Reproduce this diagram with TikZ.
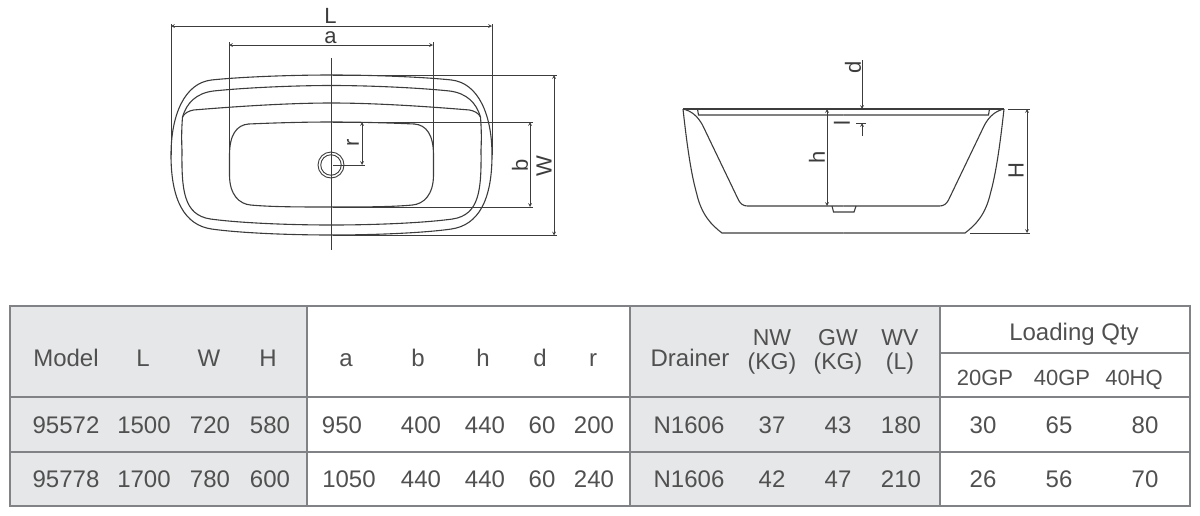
\documentclass[tikz,border=0pt]{standalone}
\usepackage{fontspec}
\setmainfont{Liberation Sans}
\definecolor{ink}{HTML}{3C3C3C}
\definecolor{txt}{HTML}{505050}
\definecolor{rulegray}{HTML}{808285}
\definecolor{panelgray}{HTML}{E6E7E8}
\begin{document}
\begin{tikzpicture}[x=1pt,y=-1pt,>=stealth,
    outline/.style={draw=ink,line width=1.1pt},
    dimline/.style={draw=ink,line width=.7pt},
    dimtext/.style={text=ink,font=\fontsize{22}{22}\selectfont,inner sep=0pt},
    cell/.style={text=txt,font=\fontsize{24}{24}\selectfont,inner sep=0pt,anchor=base},
    gptext/.style={cell,font=\fontsize{22}{24}\selectfont},
    twoline/.style={text=txt,font=\fontsize{23}{24}\selectfont,inner sep=0pt,align=center},
    tabline/.style={draw=rulegray,line width=1.5pt}]

  \useasboundingbox (0,0) rectangle (1200,515);

  % the plan view
  \foreach \s in {1,-1} {
    \begin{scope}[shift={(331.5,0)},xscale=\s]
      \draw[outline] (0,75) .. controls (-42,75) and (-92,77) .. (-120,80)
        .. controls (-147,83) and (-160.5,115) .. (-160.5,155)
        .. controls (-160.5,200) and (-147,225) .. (-120,229)
        .. controls (-92,233) and (-42,235) .. (0,235);
      \draw[outline] (0,85.5) .. controls (-40,85.5) and (-90,88) .. (-118,91)
        .. controls (-135,93) and (-145,103) .. (-149,117)
        .. controls (-150,130) and (-150,140) .. (-149.5,150)
        .. controls (-150,190) and (-148,215) .. (-121,219)
        .. controls (-92,223) and (-42,225) .. (0,225);
      \draw[outline] (-149,117) .. controls (-147,113) and (-143,111) .. (-138,110)
        .. controls (-90,106) and (-40,103) .. (0,103);
      \draw[outline] (0,122) .. controls (-30,122) and (-60,123) .. (-83,124)
        .. controls (-95,125) and (-102,135) .. (-102,155) -- (-102,175)
        .. controls (-102,195) and (-92,204) .. (-81,205)
        .. controls (-60,207) and (-30,207) .. (0,207);
    \end{scope}
  }
  \node[circle,draw=ink,line width=.9pt,minimum size=26pt,inner sep=0pt] (drainout) at (331,165) {};
  \node[circle,draw=ink,line width=.9pt,minimum size=20.5pt,inner sep=0pt] (drainin) at (331,165) {};

  \coordinate (Ltop1) at (171,24);   \coordinate (Lend1) at (171,155);
  \coordinate (Ltop2) at (492,24);   \coordinate (Lend2) at (492,155);
  \coordinate (atop1) at (229,42);   \coordinate (aend1) at (229,165);
  \coordinate (atop2) at (433,42);   \coordinate (aend2) at (433,165);
  \coordinate (axis1) at (331,58);   \coordinate (axis2) at (331,250);
  \coordinate (Wext1) at (333,75);   \coordinate (Wext1b) at (557,75);
  \coordinate (Wext2) at (333,235.5);\coordinate (Wext2b) at (557,235.5);
  \coordinate (bext1) at (333,122);  \coordinate (bext1b) at (533,122);
  \coordinate (bext2) at (333,207);  \coordinate (bext2b) at (533,207);
  \coordinate (rext) at (333,165);   \coordinate (rextb) at (365,165);

  \draw[dimline] (Ltop1) -- (Lend1);
  \draw[dimline] (Ltop2) -- (Lend2);
  \draw[dimline] (atop1) -- (aend1);
  \draw[dimline] (atop2) -- (aend2);
  \draw[dimline] (axis1) -- (axis2);
  \draw[dimline] (Wext1) -- (Wext1b);
  \draw[dimline] (Wext2) -- (Wext2b);
  \draw[dimline] (bext1) -- (bext1b);
  \draw[dimline] (bext2) -- (bext2b);
  \draw[dimline] (rext) -- (rextb);
  \draw[dimline,<->] (171,26) -- (492,26);
  \draw[dimline,<->] (229,45) -- (433,45);
  \draw[dimline,<->] (554,75) -- (554,235.5);
  \draw[dimline,<->] (530,122) -- (530,207);
  \draw[dimline,<->] (362,122) -- (362,165);

  \node[dimtext] (labL) at (330.5,16) {L};
  \node[dimtext] (laba) at (330.5,38) {a};
  \node[dimtext,rotate=90] (labW) at (544,166) {W};
  \node[dimtext,rotate=90] (labb) at (520,165) {b};
  \node[dimtext,rotate=90] (labr) at (353,143) {r};

  % the side view
  \foreach \s in {1,-1} {
    \begin{scope}[shift={(843.5,0)},xscale=\s]
      \draw[outline] (-160.5,109) .. controls (-156,150) and (-152,175) .. (-147,193)
        .. controls (-142,215) and (-132,225) .. (-121.5,233) -- (0,233);
      \draw[outline] (-160.5,109) .. controls (-152,111) and (-146,116) .. (-141,125)
        -- (-105,200) .. controls (-103,204) and (-100,206) .. (-96,206) -- (0,206);
      \draw[outline] (-160.5,109) -- (0,109);
      \draw[outline] (-146,109) -- (-145,115) -- (0,115);
    \end{scope}
  }
  \draw[outline] (832,206) -- (833.5,212) -- (854,212) -- (856,206);

  \coordinate (dtop) at (862,60);    \coordinate (darr1) at (862,109);
  \coordinate (dend) at (862,136);   \coordinate (darr2) at (862,123);
  \coordinate (dtick1) at (856,109); \coordinate (dtick1b) at (866,109);
  \coordinate (dtick2) at (856,123); \coordinate (dtick2b) at (866,123);
  \coordinate (htop) at (827,109);   \coordinate (hend) at (827,206);
  \coordinate (Hext1) at (1008,109); \coordinate (Hext1b) at (1030,109);
  \coordinate (Hext2) at (970,233);  \coordinate (Hext2b) at (1030,233);
  \coordinate (Htop) at (1027,109);  \coordinate (Hend) at (1027,233);

  \draw[dimline,->] (dtop) -- (darr1);
  \draw[dimline,->] (dend) -- (darr2);
  \draw[dimline] (dtick1) -- (dtick1b);
  \draw[dimline] (dtick2) -- (dtick2b);
  \draw[dimline,<->] (htop) -- (hend);
  \draw[dimline] (Hext1) -- (Hext1b);
  \draw[dimline] (Hext2) -- (Hext2b);
  \draw[dimline,<->] (Htop) -- (Hend);

  \node[dimtext,rotate=90] (labd) at (853,67) {d};
  \node[dimtext,rotate=90] (labl) at (842,123) {l};
  \node[dimtext,rotate=90] (labh) at (817,157) {h};
  \node[dimtext,rotate=90] (labH) at (1016,171) {H};

  % the table
  \fill[panelgray] (10,306) rectangle (307,506);
  \fill[panelgray] (630,306) rectangle (940,506);
  \draw[tabline] (10,306) rectangle (1190,506);
  \draw[tabline] (10,397) -- (1190,397);
  \draw[tabline] (10,452) -- (1190,452);
  \draw[tabline] (940,353) -- (1190,353);
  \foreach \x in {307,630,940} \draw[tabline] (\x,306) -- (\x,506);

  \foreach \x/\t/\n in {66/Model/model,143/L/colL,209/W/colW,268/H/colH,346/a/cola,418/b/colb,
      483/h/colh,540/d/cold,593/r/colr,690/Drainer/drainer}
    \node[cell] (\n) at (\x,366) {\t};
  \node[twoline] (nw) at (772,352) {NW\\(KG)};
  \node[twoline] (gw) at (838,352) {GW\\(KG)};
  \node[twoline] (wv) at (900,352) {WV\\(L)};
  \node[cell] (qty) at (1074,340) {Loading Qty};
  \node[gptext] (gp20) at (985,385) {20GP};
  \node[gptext] (gp40) at (1062,385) {40GP};
  \node[gptext] (hq40) at (1134,385) {40HQ};

  \foreach \x/\t/\n in {66/95572/a,144/1500/b,210/720/c,270/580/d,342/950/e,421/400/f,485/440/g,
      542/60/h,594/200/i,689/N1606/j,772/37/k,838/43/l,901/180/m,983/30/n,1059/65/o,1145/80/p}
    \node[cell] (one\n) at (\x,433) {\t};
  \foreach \x/\t/\n in {66/95778/a,144/1700/b,210/780/c,270/600/d,349/1050/e,421/440/f,485/440/g,
      542/60/h,594/240/i,689/N1606/j,772/42/k,838/47/l,901/210/m,983/26/n,1059/56/o,1145/70/p}
    \node[cell] (two\n) at (\x,487) {\t};

\end{tikzpicture}
\end{document}
